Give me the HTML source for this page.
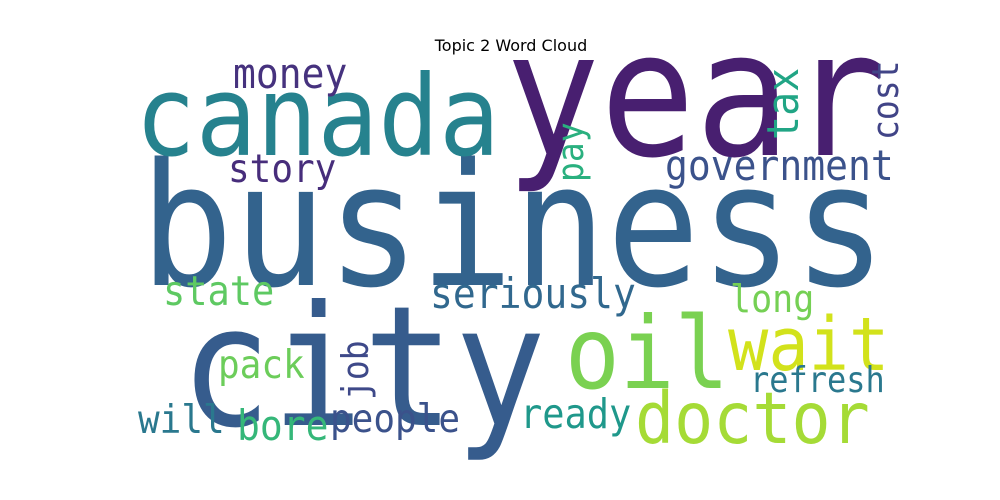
<!DOCTYPE html>
<html><head><meta charset="utf-8"><style>
html,body{margin:0;padding:0;background:#fff;width:1000px;height:500px;overflow:hidden}
svg text{font-family:"DejaVu Sans Mono","Liberation Mono",monospace}
</style></head><body>
<svg id="cloud" width="1000" height="500" viewBox="0 0 1000 500" xmlns="http://www.w3.org/2000/svg">
<text x="511" y="51" text-anchor="middle" style="font-family:'DejaVu Sans','Liberation Sans',sans-serif" font-size="16" fill="#000">Topic 2 Word Cloud</text>
</svg>
<script>
const words=["business","year","canada","city","oil","wait","doctor","money","story","government","tax","cost","pay","state","seriously","long","pack","job","refresh","will","bore","people","ready"];
const sizes=[155,158,101,152,91,67,65,38,36,38,40,33,33,37,38,35,36,33,32,36,38,36,37];
const xs=[140,505,135,180,565,728,635,233,228,665,798,898,583,163,430,730,218,368,750,138,237,330,520];
const ys=[285,155,155,425,388,370,443,88,182,180,140,140,182,305,308,312,378,400,392,433,440,432,428];
const rot=[0,0,0,0,0,0,0,0,0,0,1,1,1,0,0,0,0,1,0,0,0,0,0];
const colors=["#33638d","#481f70","#26828e","#365c8d","#7ad151","#d2e21b","#a5db36","#46327e","#472d7b","#3b528b","#21a585","#414487","#2ab07f","#5ec962","#31688e","#75d054","#6ccd5a","#3e4989","#2a788e","#2a788e","#35b779","#3b528b","#1f988b"];
const svg=document.getElementById('cloud');
words.forEach((w,i)=>{
  const t=document.createElementNS('http://www.w3.org/2000/svg','text');
  
  
  t.setAttribute('x',0);t.setAttribute('y',0);
  t.setAttribute('font-size',sizes[i]);
  t.setAttribute('fill',colors[i]);
  t.setAttribute('transform','translate('+xs[i]+' '+ys[i]+')'+(rot[i]?' rotate(-90)':'')+' scale(1 1.1)');
  t.textContent=w;
  svg.appendChild(t);
});
</script>
</body></html>
